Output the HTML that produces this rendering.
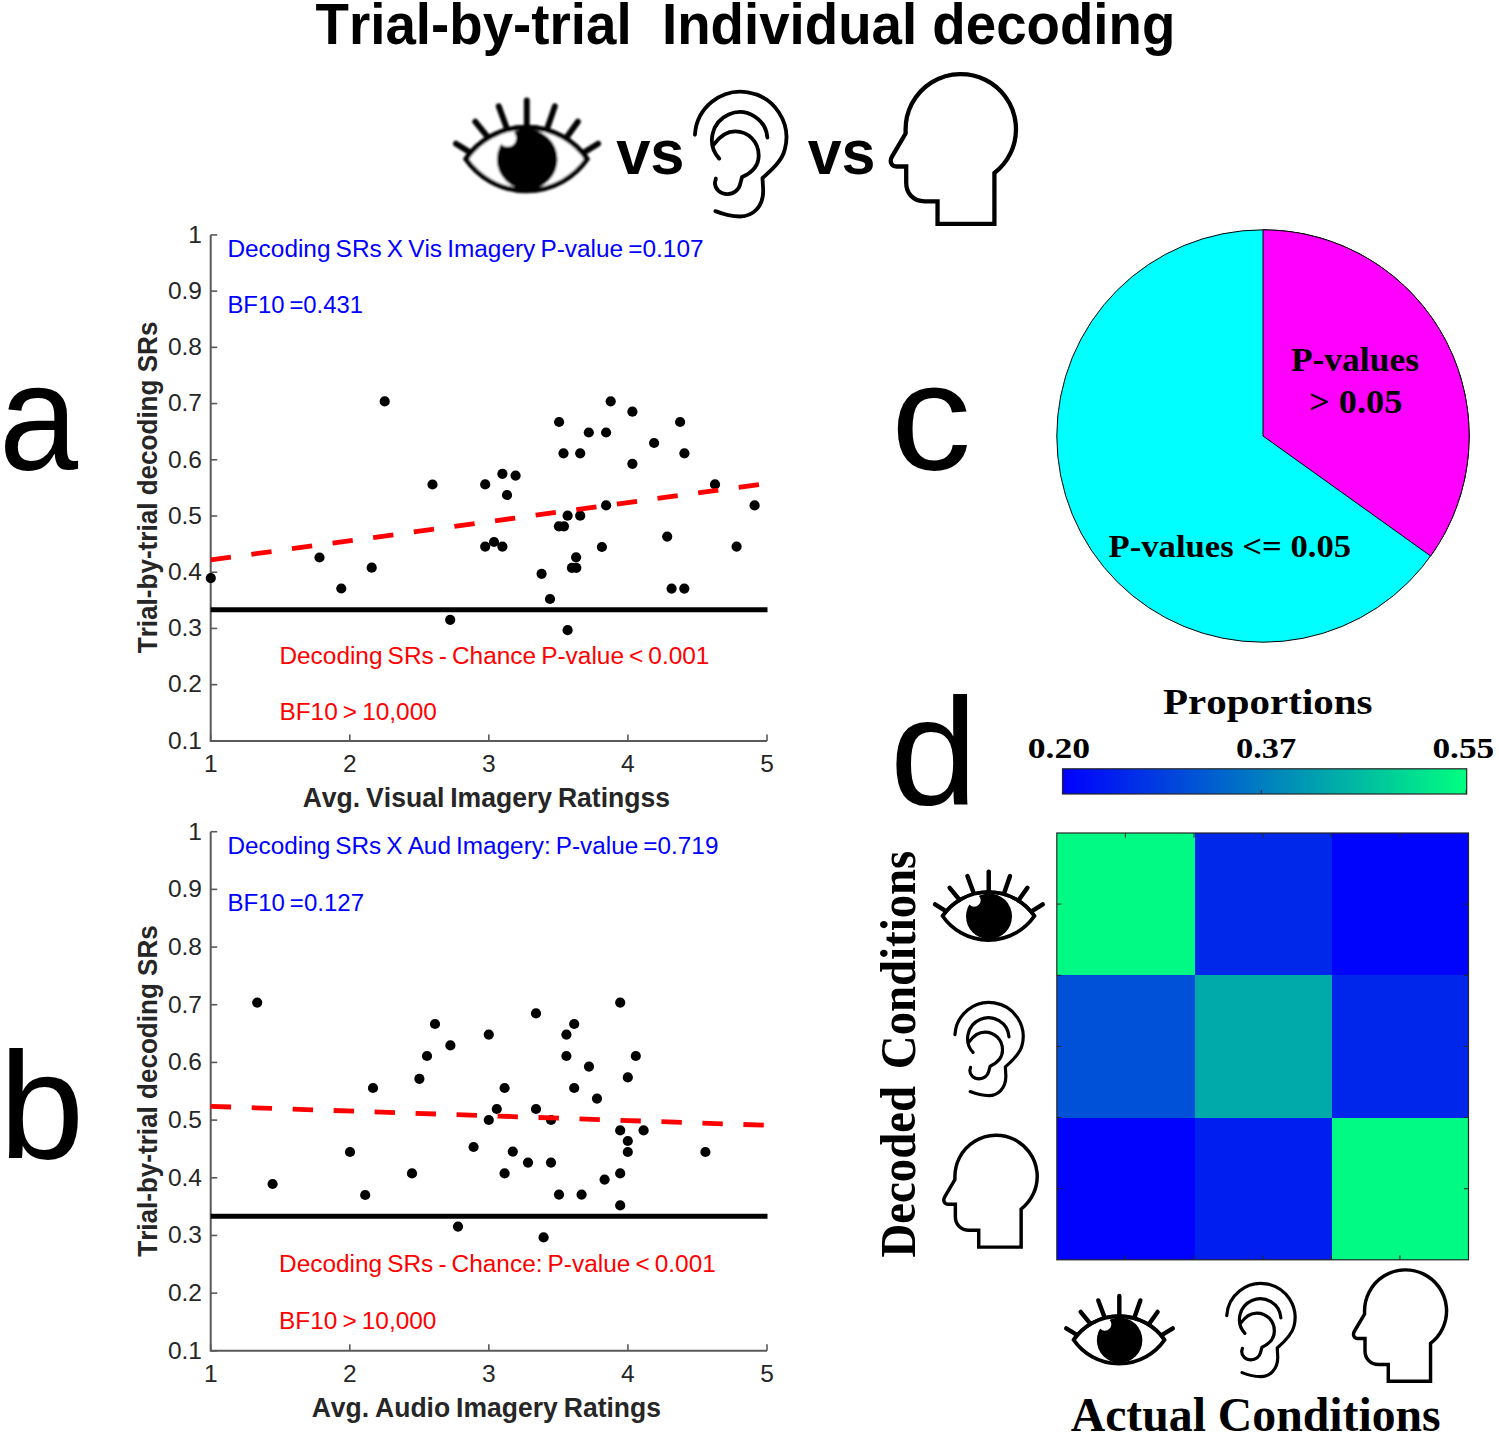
<!DOCTYPE html>
<html><head><meta charset="utf-8"><style>
html,body{margin:0;padding:0;background:#fff;}
svg{display:block;}
text{font-kerning:none;white-space:pre;}
</style></head><body>
<svg width="1499" height="1436" viewBox="0 0 1499 1436">
<rect width="1499" height="1436" fill="#fff"/>
<text transform="translate(315.59,44.40) scale(0.9479,1)" font-family='"Liberation Sans", sans-serif' font-weight="700" font-size="57.70" fill="#000">Trial-by-trial  Individual decoding</text>
<text transform="translate(616.16,173.60) scale(0.9664,1)" font-family='"Liberation Sans", sans-serif' font-weight="700" font-size="63.60" fill="#000">vs</text>
<text transform="translate(807.76,173.60) scale(0.9575,1)" font-family='"Liberation Sans", sans-serif' font-weight="700" font-size="63.60" fill="#000">vs</text>
<text transform="translate(-1.04,470.00) scale(0.9326,1)" font-family='"Liberation Sans", sans-serif' font-weight="400" font-size="152.39" fill="#000">a</text>
<text transform="translate(-0.89,1158.00) scale(1.0107,1)" font-family='"Liberation Sans", sans-serif' font-weight="400" font-size="151.81" fill="#000">b</text>
<text transform="translate(890.98,470.20) scale(1.0532,1)" font-family='"Liberation Sans", sans-serif' font-weight="400" font-size="152.39" fill="#000">c</text>
<text transform="translate(889.86,804.00) scale(1.0415,1)" font-family='"Liberation Sans", sans-serif' font-weight="400" font-size="151.81" fill="#000">d</text>
<path d="M210.7,234.9 V740.88 H767.0" fill="none" stroke="#595959" stroke-width="2"/>
<path d="M210.7,234.90 h6.5" stroke="#595959" stroke-width="1.6"/>
<text x="202" y="242.70" text-anchor="end" font-family='"Liberation Sans", sans-serif' font-size="24.5" fill="#262626">1</text>
<path d="M210.7,291.12 h6.5" stroke="#595959" stroke-width="1.6"/>
<text x="202" y="298.92" text-anchor="end" font-family='"Liberation Sans", sans-serif' font-size="24.5" fill="#262626">0.9</text>
<path d="M210.7,347.34 h6.5" stroke="#595959" stroke-width="1.6"/>
<text x="202" y="355.14" text-anchor="end" font-family='"Liberation Sans", sans-serif' font-size="24.5" fill="#262626">0.8</text>
<path d="M210.7,403.56 h6.5" stroke="#595959" stroke-width="1.6"/>
<text x="202" y="411.36" text-anchor="end" font-family='"Liberation Sans", sans-serif' font-size="24.5" fill="#262626">0.7</text>
<path d="M210.7,459.78 h6.5" stroke="#595959" stroke-width="1.6"/>
<text x="202" y="467.58" text-anchor="end" font-family='"Liberation Sans", sans-serif' font-size="24.5" fill="#262626">0.6</text>
<path d="M210.7,516.00 h6.5" stroke="#595959" stroke-width="1.6"/>
<text x="202" y="523.80" text-anchor="end" font-family='"Liberation Sans", sans-serif' font-size="24.5" fill="#262626">0.5</text>
<path d="M210.7,572.22 h6.5" stroke="#595959" stroke-width="1.6"/>
<text x="202" y="580.02" text-anchor="end" font-family='"Liberation Sans", sans-serif' font-size="24.5" fill="#262626">0.4</text>
<path d="M210.7,628.44 h6.5" stroke="#595959" stroke-width="1.6"/>
<text x="202" y="636.24" text-anchor="end" font-family='"Liberation Sans", sans-serif' font-size="24.5" fill="#262626">0.3</text>
<path d="M210.7,684.66 h6.5" stroke="#595959" stroke-width="1.6"/>
<text x="202" y="692.46" text-anchor="end" font-family='"Liberation Sans", sans-serif' font-size="24.5" fill="#262626">0.2</text>
<path d="M210.7,740.88 h6.5" stroke="#595959" stroke-width="1.6"/>
<text x="202" y="748.68" text-anchor="end" font-family='"Liberation Sans", sans-serif' font-size="24.5" fill="#262626">0.1</text>
<path d="M210.70,740.88 v-6.5" stroke="#595959" stroke-width="1.6"/>
<text x="210.70" y="772.38" text-anchor="middle" font-family='"Liberation Sans", sans-serif' font-size="24.5" fill="#262626">1</text>
<path d="M349.77,740.88 v-6.5" stroke="#595959" stroke-width="1.6"/>
<text x="349.77" y="772.38" text-anchor="middle" font-family='"Liberation Sans", sans-serif' font-size="24.5" fill="#262626">2</text>
<path d="M488.85,740.88 v-6.5" stroke="#595959" stroke-width="1.6"/>
<text x="488.85" y="772.38" text-anchor="middle" font-family='"Liberation Sans", sans-serif' font-size="24.5" fill="#262626">3</text>
<path d="M627.92,740.88 v-6.5" stroke="#595959" stroke-width="1.6"/>
<text x="627.92" y="772.38" text-anchor="middle" font-family='"Liberation Sans", sans-serif' font-size="24.5" fill="#262626">4</text>
<path d="M767.00,740.88 v-6.5" stroke="#595959" stroke-width="1.6"/>
<text x="767.00" y="772.38" text-anchor="middle" font-family='"Liberation Sans", sans-serif' font-size="24.5" fill="#262626">5</text>
<path d="M210.7,609.70 H767.5" stroke="#000" stroke-width="5"/>
<circle cx="384.7" cy="401.4" r="5.1"/>
<circle cx="432.5" cy="484.5" r="5.1"/>
<circle cx="319.5" cy="557.5" r="5.1"/>
<circle cx="371.7" cy="567.7" r="5.1"/>
<circle cx="341.3" cy="588.5" r="5.1"/>
<circle cx="210.8" cy="578.1" r="5.1"/>
<circle cx="450.2" cy="619.8" r="5.1"/>
<circle cx="610.7" cy="401.3" r="5.1"/>
<circle cx="632.4" cy="411.7" r="5.1"/>
<circle cx="559.1" cy="422" r="5.1"/>
<circle cx="680.1" cy="422" r="5.1"/>
<circle cx="588.8" cy="432.5" r="5.1"/>
<circle cx="606.1" cy="432.5" r="5.1"/>
<circle cx="654.1" cy="443" r="5.1"/>
<circle cx="563.5" cy="453.3" r="5.1"/>
<circle cx="580.2" cy="453.3" r="5.1"/>
<circle cx="684.4" cy="453.3" r="5.1"/>
<circle cx="632.4" cy="463.8" r="5.1"/>
<circle cx="502.4" cy="473.8" r="5.1"/>
<circle cx="515.6" cy="475.6" r="5.1"/>
<circle cx="485.2" cy="484.4" r="5.1"/>
<circle cx="507" cy="495" r="5.1"/>
<circle cx="715" cy="484.4" r="5.1"/>
<circle cx="606.1" cy="505.4" r="5.1"/>
<circle cx="754.6" cy="505.4" r="5.1"/>
<circle cx="567.6" cy="515.7" r="5.1"/>
<circle cx="580.2" cy="515.7" r="5.1"/>
<circle cx="558.9" cy="526.3" r="5.1"/>
<circle cx="564" cy="526.3" r="5.1"/>
<circle cx="485.2" cy="546.6" r="5.1"/>
<circle cx="494" cy="542" r="5.1"/>
<circle cx="502.4" cy="546.6" r="5.1"/>
<circle cx="601.9" cy="547" r="5.1"/>
<circle cx="667.2" cy="536.6" r="5.1"/>
<circle cx="736.6" cy="546.6" r="5.1"/>
<circle cx="576.1" cy="557.3" r="5.1"/>
<circle cx="571.9" cy="567.8" r="5.1"/>
<circle cx="576.3" cy="567.8" r="5.1"/>
<circle cx="541.6" cy="573.8" r="5.1"/>
<circle cx="671.6" cy="588.6" r="5.1"/>
<circle cx="684.3" cy="588.6" r="5.1"/>
<circle cx="550" cy="599" r="5.1"/>
<circle cx="567.6" cy="630.2" r="5.1"/>
<path d="M210.7,559.90 L767.0,483.40" stroke="#ff0000" stroke-width="4.8" stroke-dasharray="20.4 20.6"/>
<text transform="translate(227.40,257.00)" font-family='"Liberation Sans", sans-serif' font-weight="400" font-size="24.42" fill="#0000ff" word-spacing="-1.70">Decoding SRs X Vis Imagery P-value =0.107</text>
<text transform="translate(227.44,313.00) scale(0.9777,1)" font-family='"Liberation Sans", sans-serif' font-weight="400" font-size="24.42" fill="#0000ff" word-spacing="-1.70">BF10 =0.431</text>
<text transform="translate(279.40,664.40)" font-family='"Liberation Sans", sans-serif' font-weight="400" font-size="24.42" fill="#ff0000" word-spacing="-1.70">Decoding SRs - Chance P-value &lt; 0.001</text>
<text transform="translate(279.40,720.40)" font-family='"Liberation Sans", sans-serif' font-weight="400" font-size="24.42" fill="#ff0000" word-spacing="-1.70">BF10 &gt; 10,000</text>
<text transform="translate(302.64,807.00) scale(0.9615,1)" font-family='"Liberation Sans", sans-serif' font-weight="700" font-size="27.62" fill="#262626" word-spacing="-1.50">Avg. Visual Imagery Ratingss</text>
<text transform="translate(156.90,653.19) rotate(-90) scale(0.9247,1)" font-family='"Liberation Sans", sans-serif' font-weight="700" font-size="28.20" fill="#262626">Trial-by-trial decoding SRs</text>
<path d="M210.7,831.7 V1350.8200000000002 H767.0" fill="none" stroke="#595959" stroke-width="2"/>
<path d="M210.7,831.70 h6.5" stroke="#595959" stroke-width="1.6"/>
<text x="202" y="839.50" text-anchor="end" font-family='"Liberation Sans", sans-serif' font-size="24.5" fill="#262626">1</text>
<path d="M210.7,889.38 h6.5" stroke="#595959" stroke-width="1.6"/>
<text x="202" y="897.18" text-anchor="end" font-family='"Liberation Sans", sans-serif' font-size="24.5" fill="#262626">0.9</text>
<path d="M210.7,947.06 h6.5" stroke="#595959" stroke-width="1.6"/>
<text x="202" y="954.86" text-anchor="end" font-family='"Liberation Sans", sans-serif' font-size="24.5" fill="#262626">0.8</text>
<path d="M210.7,1004.74 h6.5" stroke="#595959" stroke-width="1.6"/>
<text x="202" y="1012.54" text-anchor="end" font-family='"Liberation Sans", sans-serif' font-size="24.5" fill="#262626">0.7</text>
<path d="M210.7,1062.42 h6.5" stroke="#595959" stroke-width="1.6"/>
<text x="202" y="1070.22" text-anchor="end" font-family='"Liberation Sans", sans-serif' font-size="24.5" fill="#262626">0.6</text>
<path d="M210.7,1120.10 h6.5" stroke="#595959" stroke-width="1.6"/>
<text x="202" y="1127.90" text-anchor="end" font-family='"Liberation Sans", sans-serif' font-size="24.5" fill="#262626">0.5</text>
<path d="M210.7,1177.78 h6.5" stroke="#595959" stroke-width="1.6"/>
<text x="202" y="1185.58" text-anchor="end" font-family='"Liberation Sans", sans-serif' font-size="24.5" fill="#262626">0.4</text>
<path d="M210.7,1235.46 h6.5" stroke="#595959" stroke-width="1.6"/>
<text x="202" y="1243.26" text-anchor="end" font-family='"Liberation Sans", sans-serif' font-size="24.5" fill="#262626">0.3</text>
<path d="M210.7,1293.14 h6.5" stroke="#595959" stroke-width="1.6"/>
<text x="202" y="1300.94" text-anchor="end" font-family='"Liberation Sans", sans-serif' font-size="24.5" fill="#262626">0.2</text>
<path d="M210.7,1350.82 h6.5" stroke="#595959" stroke-width="1.6"/>
<text x="202" y="1358.62" text-anchor="end" font-family='"Liberation Sans", sans-serif' font-size="24.5" fill="#262626">0.1</text>
<path d="M210.70,1350.8200000000002 v-6.5" stroke="#595959" stroke-width="1.6"/>
<text x="210.70" y="1382.32" text-anchor="middle" font-family='"Liberation Sans", sans-serif' font-size="24.5" fill="#262626">1</text>
<path d="M349.77,1350.8200000000002 v-6.5" stroke="#595959" stroke-width="1.6"/>
<text x="349.77" y="1382.32" text-anchor="middle" font-family='"Liberation Sans", sans-serif' font-size="24.5" fill="#262626">2</text>
<path d="M488.85,1350.8200000000002 v-6.5" stroke="#595959" stroke-width="1.6"/>
<text x="488.85" y="1382.32" text-anchor="middle" font-family='"Liberation Sans", sans-serif' font-size="24.5" fill="#262626">3</text>
<path d="M627.92,1350.8200000000002 v-6.5" stroke="#595959" stroke-width="1.6"/>
<text x="627.92" y="1382.32" text-anchor="middle" font-family='"Liberation Sans", sans-serif' font-size="24.5" fill="#262626">4</text>
<path d="M767.00,1350.8200000000002 v-6.5" stroke="#595959" stroke-width="1.6"/>
<text x="767.00" y="1382.32" text-anchor="middle" font-family='"Liberation Sans", sans-serif' font-size="24.5" fill="#262626">5</text>
<path d="M210.7,1216.23 H767.5" stroke="#000" stroke-width="5"/>
<circle cx="257.2" cy="1002.6" r="5.1"/>
<circle cx="435" cy="1024" r="5.1"/>
<circle cx="488.8" cy="1034.6" r="5.1"/>
<circle cx="450.4" cy="1045.4" r="5.1"/>
<circle cx="427" cy="1056" r="5.1"/>
<circle cx="419.4" cy="1078.8" r="5.1"/>
<circle cx="373" cy="1088" r="5.1"/>
<circle cx="496.8" cy="1109" r="5.1"/>
<circle cx="488.8" cy="1120" r="5.1"/>
<circle cx="350" cy="1152" r="5.1"/>
<circle cx="473.6" cy="1147" r="5.1"/>
<circle cx="412" cy="1173.4" r="5.1"/>
<circle cx="272.6" cy="1184" r="5.1"/>
<circle cx="365.2" cy="1195" r="5.1"/>
<circle cx="458" cy="1226.6" r="5.1"/>
<circle cx="620.2" cy="1002.6" r="5.1"/>
<circle cx="536" cy="1013.4" r="5.1"/>
<circle cx="574.2" cy="1024" r="5.1"/>
<circle cx="566.4" cy="1034.6" r="5.1"/>
<circle cx="566.4" cy="1056" r="5.1"/>
<circle cx="635.8" cy="1056" r="5.1"/>
<circle cx="589" cy="1066.6" r="5.1"/>
<circle cx="627.8" cy="1077.4" r="5.1"/>
<circle cx="504.6" cy="1088" r="5.1"/>
<circle cx="574.2" cy="1088" r="5.1"/>
<circle cx="597" cy="1098.6" r="5.1"/>
<circle cx="536" cy="1109" r="5.1"/>
<circle cx="551" cy="1120" r="5.1"/>
<circle cx="620.2" cy="1130.4" r="5.1"/>
<circle cx="643.6" cy="1130.4" r="5.1"/>
<circle cx="627.8" cy="1141" r="5.1"/>
<circle cx="627.8" cy="1152" r="5.1"/>
<circle cx="512.8" cy="1151.6" r="5.1"/>
<circle cx="705.4" cy="1152" r="5.1"/>
<circle cx="528" cy="1162.6" r="5.1"/>
<circle cx="551" cy="1162.6" r="5.1"/>
<circle cx="504.6" cy="1173.4" r="5.1"/>
<circle cx="620.2" cy="1173.4" r="5.1"/>
<circle cx="604.6" cy="1179.6" r="5.1"/>
<circle cx="559" cy="1194.6" r="5.1"/>
<circle cx="581.6" cy="1194.6" r="5.1"/>
<circle cx="620.2" cy="1205.4" r="5.1"/>
<circle cx="543.6" cy="1237.4" r="5.1"/>
<path d="M210.7,1106.30 L767.0,1125.30" stroke="#ff0000" stroke-width="4.8" stroke-dasharray="20.4 20.6"/>
<text transform="translate(227.40,854.00) scale(0.9968,1)" font-family='"Liberation Sans", sans-serif' font-weight="400" font-size="24.42" fill="#0000ff" word-spacing="-1.70">Decoding SRs X Aud Imagery: P-value =0.719</text>
<text transform="translate(227.43,911.20) scale(0.9846,1)" font-family='"Liberation Sans", sans-serif' font-weight="400" font-size="24.42" fill="#0000ff" word-spacing="-1.70">BF10 =0.127</text>
<text transform="translate(279.00,1271.70)" font-family='"Liberation Sans", sans-serif' font-weight="400" font-size="24.42" fill="#ff0000" word-spacing="-1.70">Decoding SRs - Chance: P-value &lt; 0.001</text>
<text transform="translate(278.99,1329.40)" font-family='"Liberation Sans", sans-serif' font-weight="400" font-size="24.42" fill="#ff0000" word-spacing="-1.70">BF10 &gt; 10,000</text>
<text transform="translate(311.64,1416.70) scale(0.9408,1)" font-family='"Liberation Sans", sans-serif' font-weight="700" font-size="28.20" fill="#262626" word-spacing="-1.50">Avg. Audio Imagery Ratings</text>
<text transform="translate(156.80,1256.79) rotate(-90) scale(0.9199,1)" font-family='"Liberation Sans", sans-serif' font-weight="700" font-size="28.34" fill="#262626">Trial-by-trial decoding SRs</text>
<circle cx="1263.0" cy="436.0" r="206.2" fill="#00ffff" stroke="#000" stroke-width="1"/>
<path d="M1263.0,436.0 V229.8 A206.2,206.2 0 0 1 1430.66,556.03 Z" fill="#ff00ff" stroke="#000" stroke-width="1" stroke-linejoin="round"/>
<text transform="translate(1290.89,371.20) scale(1.0853,1)" font-family='"Liberation Serif", serif' font-weight="700" font-size="32.68" fill="#000">P-values</text>
<text transform="translate(1309.05,412.60) scale(1.0657,1)" font-family='"Liberation Serif", serif' font-weight="700" font-size="34.13" fill="#000">&gt; 0.05</text>
<text transform="translate(1108.61,556.80) scale(1.0804,1)" font-family='"Liberation Serif", serif' font-weight="700" font-size="32.07" fill="#000">P-values &lt;= 0.05</text>
<defs><linearGradient id="winter" x1="0" x2="1" y1="0" y2="0"><stop offset="0" stop-color="#0000ff"/><stop offset="1" stop-color="#00ff80"/></linearGradient></defs>
<rect x="1062.5" y="768.8" width="404.2" height="25.2" fill="url(#winter)" stroke="#262626" stroke-width="1.2"/>
<path d="M1261.3,794 v-4 M1466.2,794 v-4" stroke="#262626" stroke-width="1"/>
<text transform="translate(1163.10,713.50) scale(1.1225,1)" font-family='"Liberation Serif", serif' font-weight="700" font-size="36.50" fill="#000">Proportions</text>
<text transform="translate(1027.64,757.60) scale(1.1801,1)" font-family='"Liberation Serif", serif' font-weight="700" font-size="30.22" fill="#000">0.20</text>
<text transform="translate(1235.99,757.60) scale(1.1392,1)" font-family='"Liberation Serif", serif' font-weight="700" font-size="30.22" fill="#000">0.37</text>
<text transform="translate(1432.45,757.60) scale(1.1692,1)" font-family='"Liberation Serif", serif' font-weight="700" font-size="30.22" fill="#000">0.55</text>
<rect x="1056.8" y="833.0" width="138.4" height="142.8" fill="#00fa83" shape-rendering="crispEdges"/>
<rect x="1194.6" y="833.0" width="137.6" height="142.8" fill="#0028eb" shape-rendering="crispEdges"/>
<rect x="1331.6" y="833.0" width="137.5" height="142.8" fill="#0004fd" shape-rendering="crispEdges"/>
<rect x="1056.8" y="975.2" width="138.4" height="142.9" fill="#0050d8" shape-rendering="crispEdges"/>
<rect x="1194.6" y="975.2" width="137.6" height="142.9" fill="#00aaaa" shape-rendering="crispEdges"/>
<rect x="1331.6" y="975.2" width="137.5" height="142.9" fill="#0026ec" shape-rendering="crispEdges"/>
<rect x="1056.8" y="1117.5" width="138.4" height="142.9" fill="#0002fe" shape-rendering="crispEdges"/>
<rect x="1194.6" y="1117.5" width="137.6" height="142.9" fill="#001ef0" shape-rendering="crispEdges"/>
<rect x="1331.6" y="1117.5" width="137.5" height="142.9" fill="#00fa83" shape-rendering="crispEdges"/>
<rect x="1056.8" y="833.0" width="411.7" height="426.8" fill="none" stroke="#262626" stroke-width="1.2"/>
<path d="M1125.4,833.0 v4.5 M1125.4,1259.8 v-4.5 M1194.0,833.0 v4.5 M1194.0,1259.8 v-4.5 M1262.7,833.0 v4.5 M1262.7,1259.8 v-4.5 M1331.3,833.0 v4.5 M1331.3,1259.8 v-4.5 M1399.9,833.0 v4.5 M1399.9,1259.8 v-4.5 M1056.8,904.1 h4.5 M1468.5,904.1 h-4.5 M1056.8,975.3 h4.5 M1468.5,975.3 h-4.5 M1056.8,1046.4 h4.5 M1468.5,1046.4 h-4.5 M1056.8,1117.5 h4.5 M1468.5,1117.5 h-4.5 M1056.8,1188.7 h4.5 M1468.5,1188.7 h-4.5" stroke="#262626" stroke-width="1"/>
<text transform="translate(914.50,1257.52) rotate(-90) scale(0.9261,1)" font-family='"Liberation Serif", serif' font-weight="700" font-size="50.55" fill="#000" word-spacing="5.50">Decoded Conditions</text>
<text transform="translate(1070.73,1430.70)" font-family='"Liberation Serif", serif' font-weight="700" font-size="47.72" fill="#000">Actual Conditions</text>
<defs><filter id="soft" x="-5%" y="-5%" width="110%" height="110%"><feGaussianBlur stdDeviation="0.9"/></filter><g id="eye">
<path d="M20.9,68.2 A74,74 0 0 1 142.5,68.2 A74,74 0 0 1 20.9,68.2 Z" fill="#fff" stroke="#000" style="stroke-width:calc(4.9px * var(--k,1))" stroke-linejoin="miter"/>
<circle cx="82.4" cy="68.6" r="30.4" fill="#000"/>
<circle cx="62.7" cy="47.3" r="8.6" fill="#fff"/>
<path d="M20.9,68.2 A74,74 0 0 1 142.5,68.2" fill="none" stroke="#000" style="stroke-width:calc(4.9px * var(--k,1))"/>
<g stroke="#000" style="stroke-width:calc(5.9px * var(--k,1))" stroke-linecap="round">
<path d="M11,52.8 L25.3,61.6"/><path d="M30.3,30.8 L42.9,46.2"/><path d="M53.9,15.4 L61.6,36.3"/>
<path d="M82,9.4 L82,34.1"/><path d="M110.1,15.4 L102.9,36.3"/><path d="M133.2,30.8 L122.2,46.2"/><path d="M153.5,52.8 L139.2,61.6"/>
</g></g><g id="ear" fill="none" stroke="#000" style="stroke-width:calc(3.9px * var(--k,1))" stroke-linecap="round" stroke-linejoin="round">
<path d="M9.5,50.8 A46.8,46.8 0 1 1 101.5,65.4 C99,77.1 88,87 78.6,95.1 L79.3,107.5 C79.5,125 68,134.5 55.7,134.4 C46,134.3 37,131.5 30.4,128.9"/>
<path d="M83.6,53.8 A28.4,28.4 0 1 0 34.3,75.2"/>
<path d="M28.9,60.7 C35,52 43,47.3 50.8,47.3 C64,47.3 74.7,58 74.7,72 C74.7,83 67,90 57.7,94.1 L55.7,101.5 C54.5,107 49,111.5 42.8,111.5 C35,111.5 29.9,106 29.9,100 L30.9,95.6"/>
</g><g id="head"><path d="M25,68.6 L25,64.3 A55.3,55.3 0 1 1 114,108.2 L114,159.3 L57,159.3 L57,136.6 L44.2,136.6 C32,136.6 25.6,128 25.6,118 L25.6,101.7 L16,101.7 C10.5,101.7 8.5,96.5 11.5,91.5 Z" fill="none" stroke="#000" style="stroke-width:calc(4.3px * var(--k,1))" stroke-linejoin="miter"/></g></defs>
<use href="#eye" transform="translate(445.02,91.00) scale(0.9973)" filter="url(#soft)"/>
<use href="#ear" transform="translate(685.65,85.07) scale(0.9778)"/>
<use href="#head" transform="translate(880.66,65.03) scale(0.9978)"/>
<use href="#eye" transform="translate(926.76,864.52) scale(0.7556)" filter="url(#soft)"/>
<use href="#ear" transform="translate(948.03,997.56) scale(0.7293)" style="--k:1.12"/>
<use href="#head" transform="translate(936.31,1128.58) scale(0.7441)" style="--k:1.08"/>
<use href="#eye" transform="translate(1057.99,1288.89) scale(0.7479)" filter="url(#soft)"/>
<use href="#ear" transform="translate(1219.82,1278.49) scale(0.7304)" style="--k:1.12"/>
<use href="#head" transform="translate(1346.02,1263.16) scale(0.7414)" style="--k:1.08"/>
</svg>
</body></html>
